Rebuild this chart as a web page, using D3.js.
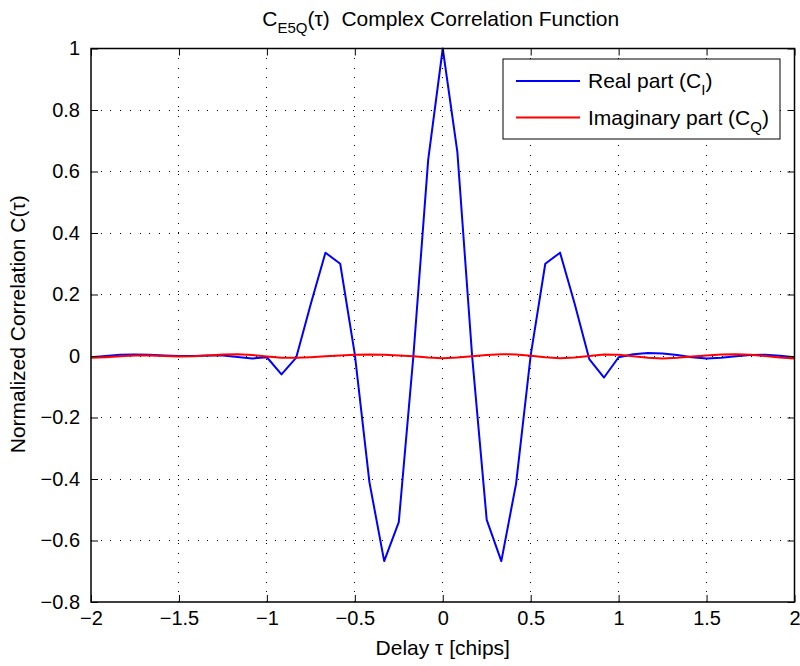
<!DOCTYPE html>
<html><head><meta charset="utf-8">
<script src="https://cdn.jsdelivr.net/npm/d3@7"></script>
<style>
body{margin:0;background:#fff}
svg text{font-family:"Liberation Sans",Arial,Helvetica,sans-serif;fill:#000}
</style>
</head><body>
<svg id="chart" width="800" height="666"></svg>
<script>
// ---- data ----
const delay = [-2, -1.917, -1.833, -1.75, -1.667, -1.583, -1.5, -1.417, -1.333, -1.25, -1.167, -1.083,
  -1, -0.917, -0.833, -0.75, -0.667, -0.583, -0.5, -0.417, -0.333, -0.25, -0.167, -0.083,
  0, 0.083, 0.167, 0.25, 0.333, 0.417, 0.5, 0.583, 0.667, 0.75, 0.833, 0.917,
  1, 1.083, 1.167, 1.25, 1.333, 1.417, 1.5, 1.583, 1.667, 1.75, 1.833, 1.917, 2];
const realPart = [-0.004, 0.0, 0.004, 0.005, 0.004, 0.002, 0.0, 0.0, 0.002, 0.002, -0.003, -0.008,
  -0.004, -0.06, -0.005, 0.17, 0.336, 0.30, 0.005, -0.41, -0.667, -0.54, 0.0, 0.637,
  1.0, 0.664, 0.0, -0.533, -0.667, -0.415, 0.002, 0.30, 0.336, 0.17, -0.01, -0.07,
  -0.004, 0.006, 0.01, 0.008, 0.003, -0.004, -0.008, -0.006, -0.001, 0.003, 0.004, 0.001, -0.004];
const imagPart = [-0.006, -0.004, -0.001, 0.002, 0.002, 0.0, -0.002, -0.001, 0.002, 0.005, 0.006, 0.003,
  -0.002, -0.006, -0.006, -0.004, -0.001, 0.002, 0.004, 0.005, 0.004, 0.002, -0.001, -0.005,
  -0.007, -0.005, -0.001, 0.003, 0.006, 0.005, 0.001, -0.004, -0.007, -0.005, 0.0, 0.005,
  0.004, -0.001, -0.006, -0.008, -0.006, -0.002, 0.002, 0.005, 0.006, 0.004, 0.0, -0.005, -0.008];
const xTicks = [-2, -1.5, -1, -0.5, 0, 0.5, 1, 1.5, 2];
const yTicks = [-0.8, -0.6, -0.4, -0.2, 0, 0.2, 0.4, 0.6, 0.8, 1];
const seriesNames = ["Real part (C", "Imaginary part (C"];
const seriesSubs = ["I", "Q"];
const seriesColors = ["#0000ff", "#ff0000"];

// ---- layout ----
const L = 91, R = 794.5, T = 48.5, B = 602;
const x = d3.scaleLinear().domain([-2, 2]).range([L, R]);
const y = d3.scaleLinear().domain([-0.8, 1]).range([B, T]);
const svg = d3.select("#chart");
const fs = 21, fsTick = 20, sub = 14;

// grid
const grid = svg.append("g").attr("stroke", "#000").attr("stroke-width", 1)
  .attr("stroke-dasharray", "1,8.7").attr("fill", "none");
xTicks.slice(1, -1).forEach(t => grid.append("line")
  .attr("x1", x(t)).attr("x2", x(t)).attr("y1", B).attr("y2", T).attr("shape-rendering", "crispEdges"));
yTicks.slice(1, -1).forEach(t => grid.append("line")
  .attr("y1", y(t)).attr("y2", y(t)).attr("x1", L).attr("x2", R).attr("shape-rendering", "crispEdges"));

// lines
const line = d3.line().x((d, i) => x(delay[i])).y(d => y(d));
[realPart, imagPart].forEach((s, i) => {
  svg.append("path").datum(s).attr("d", line).attr("fill", "none")
    .attr("stroke", seriesColors[i]).attr("stroke-width", 2).attr("stroke-linejoin", "round");
});

// axes (MATLAB style: inward ticks on all sides)
const fmt = d3.format("~g");
const axB = svg.append("g").attr("transform", `translate(0,${B})`)
  .call(d3.axisBottom(x).tickValues(xTicks).tickFormat(fmt).tickSizeInner(-7).tickSizeOuter(0).tickPadding(9));
const axL = svg.append("g").attr("transform", `translate(${L},0)`)
  .call(d3.axisLeft(y).tickValues(yTicks).tickFormat(fmt).tickSizeInner(-7).tickSizeOuter(0).tickPadding(11));
const axT = svg.append("g").attr("transform", `translate(0,${T})`)
  .call(d3.axisTop(x).tickValues(xTicks).tickFormat("").tickSizeInner(-7).tickSizeOuter(0));
const axR = svg.append("g").attr("transform", `translate(${R},0)`)
  .call(d3.axisRight(y).tickValues(yTicks).tickFormat("").tickSizeInner(-7).tickSizeOuter(0));
[axB, axL, axT, axR].forEach(a => {
  a.select(".domain").remove();
  a.selectAll(".tick line").attr("stroke", "#000").attr("stroke-width", 1);
  a.selectAll("text").attr("font-size", fsTick).style("font-family", '"Liberation Sans",Arial,sans-serif');
});
axB.selectAll("text").attr("dy", "0.71em");
svg.append("rect").attr("x", L).attr("y", T).attr("width", R - L).attr("height", B - T)
  .attr("fill", "none").attr("stroke", "#000").attr("stroke-width", 1.5);

// title
const title = svg.append("text").attr("x", (L + R) / 2 - 2).attr("y", 26).attr("text-anchor", "middle")
  .attr("font-size", fs).attr("xml:space", "preserve");
title.append("tspan").text("C");
title.append("tspan").attr("dy", 7).attr("font-size", sub + 1).text("E5Q");
title.append("tspan").attr("dy", -7).text("(τ)\u00a0 Complex Correlation Function");

// axis labels
svg.append("text").attr("x", (L + R) / 2).attr("y", 655).attr("text-anchor", "middle")
  .attr("font-size", fs).text("Delay τ [chips]");
svg.append("text").attr("transform", `translate(25,${(T + B) / 2 - 1}) rotate(-90)`)
  .attr("text-anchor", "middle").attr("font-size", fs).text("Normalized Correlation C(τ)");

// legend
const lg = svg.append("g");
lg.append("rect").attr("x", 503).attr("y", 59).attr("width", 277).attr("height", 80)
  .attr("fill", "#fff").attr("stroke", "#000").attr("stroke-width", 1);
seriesNames.forEach((n, i) => {
  const yy = 81 + i * 36.5;
  lg.append("line").attr("x1", 516).attr("x2", 580).attr("y1", yy).attr("y2", yy)
    .attr("stroke", seriesColors[i]).attr("stroke-width", 2);
  const t = lg.append("text").attr("x", 588).attr("y", yy + 7).attr("font-size", fs);
  t.append("tspan").text(n);
  t.append("tspan").attr("dy", 7).attr("font-size", sub + 1).text(seriesSubs[i]);
  t.append("tspan").attr("dy", -7).text(")");
});
</script>
</body></html>
